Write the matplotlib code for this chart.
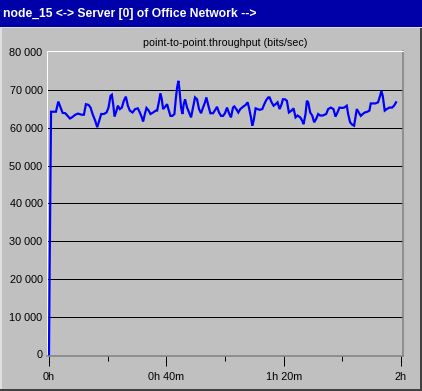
import matplotlib
matplotlib.use("Agg")
import matplotlib.pyplot as plt
from matplotlib.patches import Rectangle

W, H = 422, 391

window_title = "node_15 <-> Server [0] of Office Network -->"
chart_title = "point-to-point.throughput (bits/sec)"

# time in minutes, throughput in bits/sec
times = [0.0, 0.2, 0.45, 0.7, 2.37, 3.17, 3.96, 4.64, 5.55, 6.23, 7.14, 7.82, 8.95, 9.86,
         11.22, 11.90, 12.58, 13.49, 14.17, 14.85, 15.76, 16.44, 17.12, 17.80, 18.71,
         19.61, 20.29, 20.97, 21.43, 21.88, 22.34, 23.02, 23.47, 24.15, 24.83, 25.51,
         26.20, 26.88, 27.56, 28.46, 29.37, 30.28, 30.96, 31.64, 32.09, 32.55, 33.23,
         33.91, 34.59, 35.50, 36.40, 36.86, 37.54, 37.99, 38.45, 38.90, 39.58, 40.26,
         40.71, 41.39, 42.07, 42.76, 43.21, 43.66, 44.12, 44.46, 45.03, 45.48, 45.93,
         46.39, 47.07, 47.75, 48.43, 49.11, 49.79, 50.47, 51.15, 51.83, 52.51, 53.19,
         53.65, 54.33, 55.01, 55.92, 56.60, 57.28, 57.96, 58.64, 59.32, 60.00, 60.68,
         61.36, 62.04, 62.72, 63.18, 63.86, 64.54, 65.22, 66.13, 67.04, 67.72, 68.17,
         68.85, 69.30, 69.76, 70.44, 71.12, 71.80, 72.71, 73.39, 74.07, 74.75, 75.20,
         75.88, 76.56, 77.24, 77.92, 78.61, 79.29, 79.74, 80.42, 81.10, 81.78, 82.69,
         83.37, 84.05, 84.73, 85.64, 86.32, 86.77, 87.45, 87.91, 88.36, 89.04, 89.72,
         90.40, 91.08, 91.76, 92.44, 93.35, 94.49, 95.17, 96.08, 96.98, 97.66, 98.34,
         99.02, 99.93, 100.61, 101.52, 101.97, 102.65, 103.33, 104.01, 104.47, 104.93,
         105.61, 106.29, 106.97, 107.65, 108.55, 109.23, 109.69, 110.60, 111.28, 112.18,
         112.86, 113.32, 113.77, 114.45, 115.13, 116.04, 116.95, 117.63, 118.31]
throughput = [0, 21000, 43000, 64300, 64300, 67000, 65400, 64000, 63900, 63300, 62500, 62800,
              63500, 63800, 63500, 63500, 66300, 66100, 65400, 63700, 61900, 60200, 61900,
              63700, 63700, 64100, 65400, 68500, 68800, 66300, 63000, 64600, 65900, 65000,
              65400, 67200, 68300, 65900, 64600, 64100, 65000, 65200, 64100, 62800, 61700,
              63300, 65300, 64700, 63700, 64100, 64600, 64600, 67200, 69200, 67600, 65000,
              65600, 66300, 65000, 63200, 63200, 63700, 67600, 70700, 72500, 70300, 65400,
              63700, 66300, 67600, 65400, 64100, 62800, 65400, 68100, 67600, 65000, 63900,
              65400, 66800, 68100, 65900, 63900, 63900, 64700, 65600, 64100, 63200, 63200,
              63900, 65400, 63900, 62800, 65400, 65700, 65000, 64100, 65000, 65600, 66100,
              66800, 65400, 62800, 60600, 61900, 65200, 65000, 64800, 65000, 66300, 67400,
              68100, 68100, 66800, 65900, 66300, 66800, 65000, 66300, 67600, 67600, 67200,
              64100, 64600, 65200, 62800, 63300, 62800, 61900, 61000, 63700, 67200, 66800,
              64100, 63300, 61500, 62400, 63700, 63300, 63300, 63700, 65000, 65400, 65000,
              63000, 64100, 65400, 65300, 65400, 65900, 63700, 61500, 60900, 60600, 62800,
              65000, 64100, 63200, 63700, 64100, 64300, 64600, 66500, 66500, 66500, 66800,
              68500, 69800, 68500, 64600, 65000, 65400, 65400, 65900, 66800]

y_ticks = [0, 10000, 20000, 30000, 40000, 50000, 60000, 70000, 80000]
y_tick_labels = ["0", "10 000", "20 000", "30 000", "40 000", "50 000", "60 000", "70 000", "80 000"]
grid_values = [10000, 20000, 30000, 40000, 50000, 60000, 70000]
x_major = [0, 40, 80, 120]
x_major_labels = ["0h", "0h 40m", "1h 20m", "2h"]
x_minor = [20, 60, 100]

FONT = ["Liberation Sans", "DejaVu Sans"]
PX = 72 / 100.0  # points per pixel

fig = plt.figure(figsize=(W / 100, H / 100), dpi=100)
fig.patch.set_facecolor("#c0c0c0")

def fx(px):
    return px / W

def fy(py):
    return 1 - py / H

# window title bar
fig.add_artist(Rectangle((0, fy(27)), 1, 27 / H, transform=fig.transFigure,
                         facecolor="#0000a8", edgecolor="none"))
fig.add_artist(Rectangle((0, fy(28)), 1, 1 / H, transform=fig.transFigure,
                         facecolor="#dfdfdf", edgecolor="none"))
# window edges
fig.add_artist(Rectangle((0, 0), 1.5 / W, fy(28), transform=fig.transFigure,
                         facecolor="#dfdfdf", edgecolor="none"))
fig.add_artist(Rectangle((fx(420), 0), 2 / W, fy(28), transform=fig.transFigure,
                         facecolor="#404040", edgecolor="none"))
fig.add_artist(Rectangle((0, 0), 1, 2 / H, transform=fig.transFigure,
                         facecolor="#404040", edgecolor="none"))

fig.text(fx(3), fy(14), window_title, color="white", fontweight="bold",
         fontsize=8.7, family=FONT, ha="left", va="center")

ax = fig.add_axes([fx(47), fy(356), 356 / W, 305.5 / H])
ax.set_facecolor("#c0c0c0")
ax.set_xlim(-0.68, 120.68)
ax.set_ylim(-450, 80530)

for g in grid_values:
    ax.axhline(g, color="black", linewidth=1 * PX, zorder=1)

ax.plot(times, throughput, color="#0000ff", linewidth=2.2 * PX, zorder=3,
        solid_joinstyle="miter")

fig.text(fx(225), fy(42.5), chart_title, fontsize=7.7, family=FONT,
         ha="center", va="center", color="black")

ax.set_yticks(y_ticks)
ax.set_yticklabels(y_tick_labels, fontsize=7.8, family=FONT)
ax.tick_params(axis="y", length=0, pad=4.4 * PX)

ax.set_xticks(x_major)
ax.set_xticklabels(x_major_labels, fontsize=7.8, family=FONT)
ax.set_xticks(x_minor, minor=True)
ax.tick_params(axis="x", which="major", length=10 * PX, width=1 * PX,
               direction="out", pad=6 * PX, color="black")
ax.tick_params(axis="x", which="minor", length=5 * PX, width=1 * PX,
               direction="out", color="black")

for side in ("left", "top"):
    ax.spines[side].set_color("white")
    ax.spines[side].set_linewidth(1 * PX)
for side in ("right", "bottom"):
    ax.spines[side].set_color("#808080")
    ax.spines[side].set_linewidth(1.5 * PX)

fig.savefig("out.png", dpi=100, facecolor=fig.get_facecolor())
